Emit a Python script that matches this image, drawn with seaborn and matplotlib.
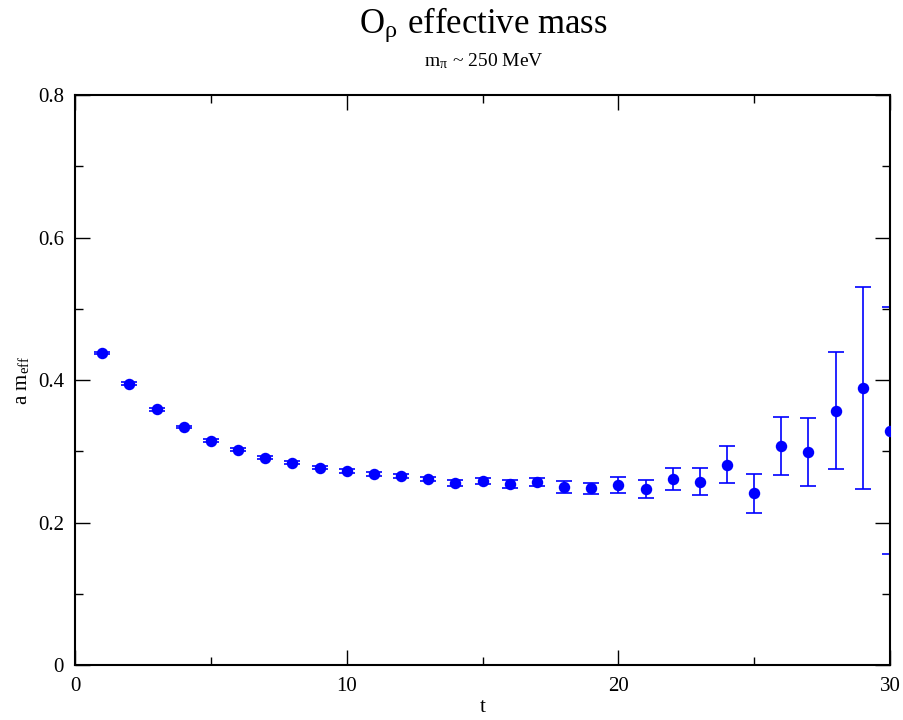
import matplotlib
matplotlib.use("Agg")
import matplotlib.pyplot as plt
from matplotlib.ticker import MultipleLocator
import seaborn as sns
import pandas as pd

# effective mass data
t_vals = list(range(1, 31))
m_eff = [0.438, 0.395, 0.359, 0.334, 0.315, 0.302, 0.291, 0.284, 0.277, 0.272,
         0.268, 0.265, 0.261, 0.255, 0.258, 0.254, 0.257, 0.250, 0.248, 0.253,
         0.247, 0.261, 0.257, 0.281, 0.241, 0.307, 0.299, 0.357, 0.389, 0.329]
m_err = [0.002, 0.002, 0.002, 0.002, 0.002, 0.002, 0.002, 0.002, 0.002, 0.003,
         0.003, 0.003, 0.003, 0.004, 0.004, 0.005, 0.006, 0.008, 0.008, 0.011,
         0.012, 0.016, 0.019, 0.026, 0.027, 0.041, 0.048, 0.082, 0.142, 0.173]

df = pd.DataFrame({"t": t_vals, "meff": m_eff, "err": m_err})

sns.set_style("ticks")
plt.rcParams['font.family'] = ['Liberation Serif', 'DejaVu Serif']
plt.rcParams['mathtext.fontset'] = 'stix'
plt.rcParams['text.color'] = 'black'
plt.rcParams['axes.labelcolor'] = 'black'
plt.rcParams['xtick.color'] = 'black'
plt.rcParams['ytick.color'] = 'black'

fig = plt.figure(figsize=(9.04, 7.2), dpi=100)
ax = fig.add_axes([0.083, 0.0764, 0.9015, 0.7916])

ax.errorbar(df["t"], df["meff"], yerr=df["err"], fmt="none", ecolor="#0000ff",
            elinewidth=1.2, capsize=6, capthick=1.2, zorder=2)
sns.scatterplot(data=df, x="t", y="meff", ax=ax, color="#0000ff", s=68,
                edgecolor="#0000ff", linewidth=0, zorder=3)

ax.set_xlim(0, 30)
ax.set_ylim(0, 0.8)
ax.xaxis.set_major_locator(MultipleLocator(10))
ax.xaxis.set_minor_locator(MultipleLocator(5))
ax.yaxis.set_major_locator(MultipleLocator(0.2))
ax.yaxis.set_minor_locator(MultipleLocator(0.1))
ax.yaxis.set_major_formatter(matplotlib.ticker.FuncFormatter(
    lambda v, p: "0" if abs(v) < 1e-9 else f"{v:.1f}"))
ax.tick_params(which="both", direction="in", top=True, right=True,
               labelsize=15, color="black", labelcolor="black")
ax.tick_params(axis="x", which="major", length=11, width=1, pad=9)
ax.tick_params(axis="y", which="major", length=11, width=1, pad=8)
ax.tick_params(which="minor", length=5.5, width=1)
for sp in ax.spines.values():
    sp.set_linewidth(1.5)
    sp.set_color("black")

ax.set_xlabel("t", fontsize=15, labelpad=1)
ax.set_ylabel(r"a m$_{\mathregular{eff}}$", fontsize=15, labelpad=4)

fig.text(0.535, 0.965, r"O$_{\mathregular{ρ}}$ effective mass", ha="center",
         va="center", fontsize=25)
fig.text(0.535, 0.915, r"m$_{\mathregular{π}}$ ~ 250 MeV", ha="center",
         va="center", fontsize=14)

fig.savefig("out.png", dpi=100)
